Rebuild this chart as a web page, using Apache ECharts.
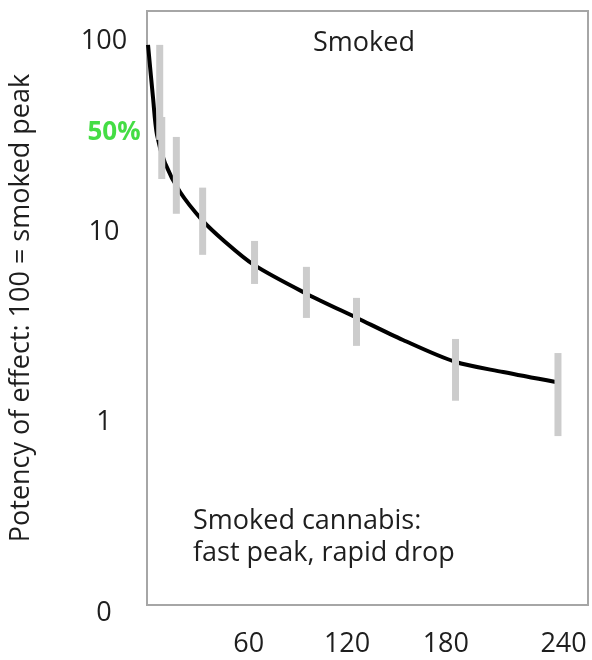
<!DOCTYPE html>
<html>
<head>
<meta charset="utf-8">
<script src="https://cdn.jsdelivr.net/npm/echarts@6/dist/echarts.min.js"></script>
<style>
  html, body { margin: 0; padding: 0; background: #ffffff; }
  #chart { width: 592px; height: 660px; }
</style>
</head>
<body>
<div id="chart"></div>
<script>
// Time after dosing (minutes) and potency relative to smoked peak (log scale)
const curveTimes = [0.6, 3.5, 5.9, 10.6, 19.5, 32.4, 44.8, 63.1, 94.3, 123.8, 150.9, 181.6, 210, 241];
const curveValues = [87, 46.4, 29.3, 20.9, 14.7, 10.5, 8.24, 6.09, 4.29, 3.21, 2.46, 1.89, 1.67, 1.48];

// Measurement ranges (low / high) at each sampling time
const rangeTimes = [7.5, 8.7, 17.3, 32.8, 63.4, 94.0, 123.5, 181.9, 242.3];
const rangeHigh = [87, 36.4, 28.6, 15.5, 8.14, 5.95, 4.09, 2.49, 2.10];
const rangeLow = [27.6, 17.2, 11.3, 6.88, 4.84, 3.21, 2.29, 1.18, 0.77];

// Axis ticks
const xTickValues = [60, 120, 180, 240];
const yTickValues = [0.1, 1, 10, 100];
const yTickLabels = ['0', '1', '10', '100'];

const FONT = '"Open Sans", "DejaVu Sans", sans-serif';
const INK = '#1e1e1e';
const SIZE = 27;

const chart = echarts.init(document.getElementById('chart'), null, { renderer: 'canvas' });

const curveData = curveTimes.map((t, i) => [t, curveValues[i]]);
const rangeData = rangeTimes.map((t, i) => [t, rangeLow[i], rangeHigh[i]]);

// per-label nudges so the time labels sit where they are printed
const xLabelStyle = (pad) => ({ fontFamily: FONT, fontSize: SIZE, color: INK, padding: pad });

chart.setOption({
  animation: false,
  backgroundColor: '#ffffff',
  grid: {
    left: 147, top: 11, width: 441, height: 594,
    outerBoundsMode: 'none',
    show: true, borderColor: '#a6a6a6', borderWidth: 2,
    backgroundColor: 'transparent', containLabel: false
  },
  xAxis: {
    type: 'value', min: 0, max: 260,
    axisLine: { show: false }, axisTick: { show: false }, splitLine: { show: false },
    axisLabel: {
      customValues: xTickValues,
      margin: 26,
      fontFamily: FONT, fontSize: SIZE, color: INK,
      formatter: v => v === 240 ? '{e|240}' : v === 180 ? '{c|180}' : v === 120 ? '{b|120}' : String(v),
      rich: {
        b: xLabelStyle([0, 7, 0, 0]),
        c: xLabelStyle([0, 13, 0, 0]),
        e: xLabelStyle([0, 0, 0, 19])
      }
    }
  },
  yAxis: {
    type: 'log', logBase: 10, min: 0.1, max: 131,
    axisLine: { show: false }, axisTick: { show: false }, splitLine: { show: false },
    axisLabel: {
      margin: 43, align: 'center',
      verticalAlign: 'top', lineHeight: 16,
      fontFamily: FONT, fontSize: SIZE, color: INK,
      formatter: v => {
        const i = yTickValues.findIndex(t => Math.abs(Math.log10(t) - Math.log10(v)) < 1e-6);
        return i >= 0 ? yTickLabels[i] : '';
      }
    },
    name: 'Potency of effect: 100 = smoked peak',
    nameLocation: 'middle', nameGap: 112, nameRotate: 90,
    nameTextStyle: { fontFamily: FONT, fontSize: SIZE, color: INK }
  },
  series: [
    {
      type: 'line', data: curveData, showSymbol: false,
      smooth: 0.3,
      lineStyle: { color: '#000000', width: 4 }, z: 2
    },
    {
      type: 'custom', data: rangeData, z: 3,
      renderItem: (params, api) => {
        const top = api.coord([api.value(0), api.value(2)]);
        const bottom = api.coord([api.value(0), api.value(1)]);
        return {
          type: 'rect',
          shape: { x: top[0] - 3.5, y: top[1], width: 7, height: bottom[1] - top[1] },
          style: { fill: '#cccccc' }
        };
      }
    }
  ],
  graphic: [
    { type: 'text', x: 313, y: 43, style: { text: 'Smoked', font: SIZE + 'px ' + FONT, fill: INK, align: 'left', verticalAlign: 'middle' } },
    { type: 'text', x: 114, y: 133, style: { text: '50%', font: 'bold 26px ' + FONT, fill: '#44dd44', align: 'center', verticalAlign: 'middle' } },
    { type: 'text', x: 193, y: 537, style: { text: 'Smoked cannabis:\nfast peak, rapid drop', font: SIZE + 'px ' + FONT, lineHeight: 32, fill: INK, align: 'left', verticalAlign: 'middle' } }
  ]
});
</script>
</body>
</html>
